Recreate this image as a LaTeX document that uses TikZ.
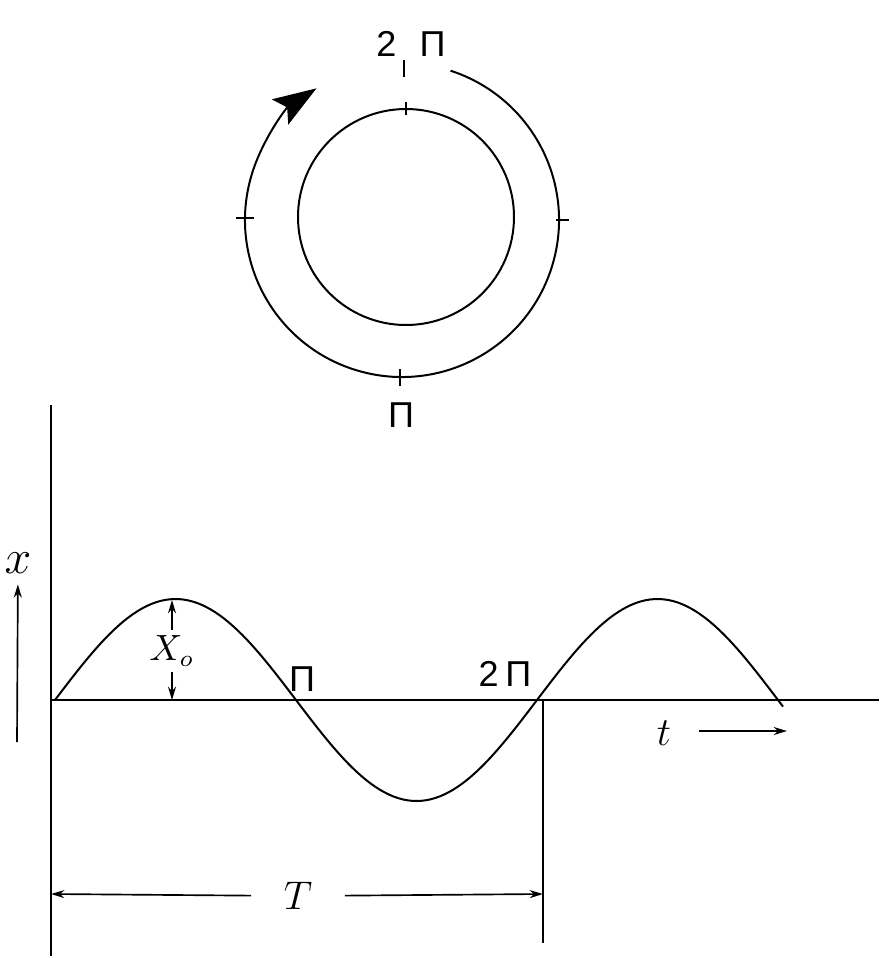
\documentclass[tikz,border=0pt]{standalone}
\usepackage{fontspec}
\newfontfamily\plotfont{Liberation Sans}
\usepackage{tikz}
\usetikzlibrary{arrows.meta,positioning}

\begin{document}
\begin{tikzpicture}[x=0.3pt, y=-0.3pt, line width=0.6pt, >={Stealth[length=4pt, width=2.4pt]}]
\tikzset{
  tickmark/.style={line width=0.5pt},
  pilabel/.style={font=\plotfont\fontsize{10.8}{12}\selectfont, inner sep=0pt},
  mathlabel/.style={font=\fontsize{12.5}{15}\selectfont, inner sep=1pt},
  dim/.style={->, line width=0.5pt},
  turn/.style={-{Stealth[length=13pt, width=9pt, inset=2.5pt]}, line width=0.6pt},
}
\useasboundingbox (0,0) rectangle (879,958);

% Phase circle
\node (wheel) [circle, draw, minimum size=64.8pt, inner sep=0pt] at (406,217) {};
\coordinate (hub) at (402,220);
\draw[turn] ([shift={(72:47.1pt)}]hub) arc[start angle=72, end angle=-237, radius=47.1pt];

% Ticks
\draw[tickmark] (wheel.north) ++(0,-6) -- ++(0,13);
\draw[tickmark] (hub) ++(2,-160) -- ++(0,17);
\draw[tickmark] (hub) ++(-166,-2) -- ++(18,0);
\draw[tickmark] (hub) ++(154,0) -- ++(13,0);
\draw[tickmark] (hub) ++(-2,149) -- ++(0,17);

% Phase labels
\node (twopitop) [pilabel] at (411,44) {2\hspace{7pt}Π};
\node (pibottom) [pilabel] at (401,415) {Π};

% Axes
\coordinate (ytop) at (51,405);
\coordinate (ybot) at (51,956);
\coordinate (origin) at (51,700);
\coordinate (xend) at (879,700);
\draw (ytop) -- (ybot);
\draw (origin) -- (xend);

% Displacement arrow
\node (xlab) [mathlabel, font=\fontsize{15}{17}\selectfont] at (18,563) {$x$};
\coordinate (xtail) at (17,742);
\draw[dim, shorten >=2pt] (xtail) -- (xlab);

% Sine wave
\draw[samples=160, domain=55:783] plot (\x, {700 - 101*sin((\x-55)/482*360)});

% Amplitude
\coordinate (peak) at (172,600);
\coordinate (foot) at (172,700);
\node (amp) [font=\fontsize{10.5}{12}\selectfont, inner sep=1.5pt] at (172,651) {$X_o$};
\draw[dim] (amp) -- (peak);
\draw[dim] (amp) -- (foot);

% Crossing labels
\node (pihalf) [pilabel] at (302,679) {Π};
\node (twopi) [pilabel] at (505,674) {2\hspace{2pt}Π};

% Period
\coordinate (cross) at (543,700);
\coordinate (pend) at (543,943);
\draw (cross) -- (pend);
\coordinate (tleft) at (51,894);
\coordinate (tright) at (543,894);
\node (period) [mathlabel, inner xsep=9.5pt] at (298,896) {$T$};
\draw[dim] (period) -- (tleft);
\draw[dim] (period) -- (tright);

% Time arrow
\node (tlab) [mathlabel] at (664,733) {$t$};
\coordinate (thead) at (787,731);
\draw[dim, shorten <=7pt] (tlab.east |- thead) -- (thead);

\end{tikzpicture}
\end{document}
